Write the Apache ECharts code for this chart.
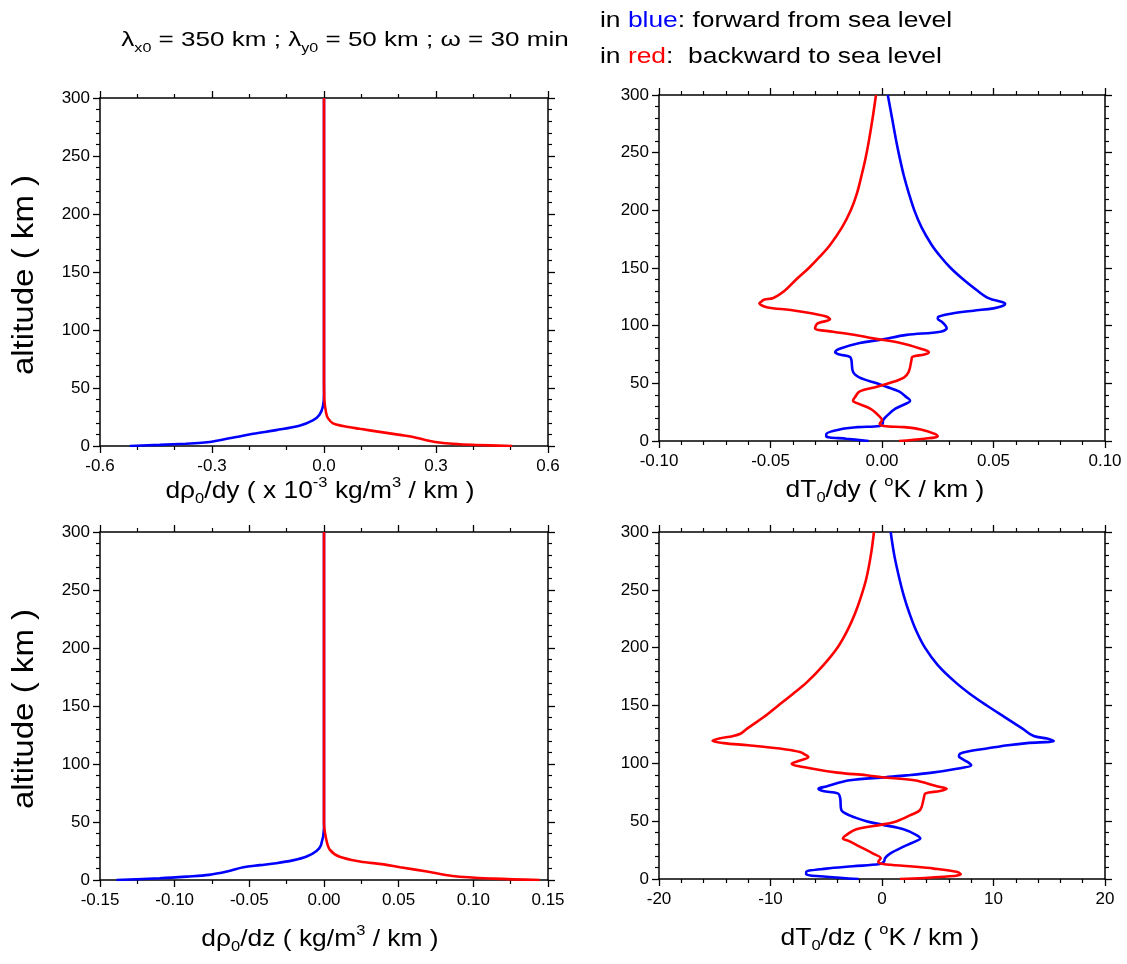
<!DOCTYPE html>
<html><head><meta charset="utf-8">
<script src="https://cdn.jsdelivr.net/npm/echarts@6/dist/echarts.min.js"></script>
<style>html,body{margin:0;padding:0;background:#fff}#c{width:1127px;height:964px}</style>
</head><body><div id="c"></div>
<script>
// ---- data ----
// top-left: d rho0 / dy  (x 1e-3 kg/m3/km)
const altRhoDyBlue = [0,1,2,3,5,8,10.5,13.7,17.4,22,27,34,45,60,100,200,300];
const rhoDyBlue    = [-0.52,-0.44,-0.37,-0.32,-0.28,-0.23,-0.19,-0.128,-0.066,-0.03,-0.012,-0.003,0,0,0,0,0];
const altRhoDyRed  = [0,0.9,1.5,2.6,5,7.8,9.6,12.2,14.8,17.2,19.5,23.8,28,40,60,100,200,300];
const rhoDyRed     = [0.504,0.408,0.364,0.319,0.274,0.239,0.203,0.149,0.096,0.051,0.024,0.011,0.006,0.001,0,0,0,0];
// bottom-left: d rho0 / dz (kg/m3/km)
const altRhoDzBlue = [0,1.5,2.9,4.4,7.3,11,12.8,14.5,16.9,20,25,30,45,100,200,300];
const rhoDzBlue    = [-0.139,-0.11,-0.092,-0.077,-0.065,-0.054,-0.043,-0.032,-0.021,-0.012,-0.005,-0.002,0,0,0,0];
const altRhoDzRed  = [0,1.2,3.5,7.3,11,13.5,16,20,26,35,50,100,200,300];
const rhoDzRed     = [0.1445,0.113,0.086,0.069,0.051,0.04,0.024,0.0105,0.004,0.0015,0,0,0,0];
// top-right: d T0 / dy (K/km)
const altTDyBlue = [0,2,4,6,10,12,13,15,18,22,28,33,35,38,43,47,50,55,60,70,73,75,77,80,85,87.6,92,94.8,97.7,100,103.4,106,107.8,110.7,113,115,117,119,121,123,124.5,130,140,150,160,170,185,200,215,230,245,260,280,300];
const tDyBlue    = [-0.006,-0.016,-0.025,-0.025,-0.019,-0.011,-0.001,0.0003,0.0005,0.0023,0.006,0.0115,0.0126,0.011,0.0076,0.002,-0.0023,-0.01,-0.013,-0.0137,-0.0144,-0.019,-0.021,-0.019,-0.01,-0.001,0.011,0.0262,0.029,0.0285,0.0268,0.025,0.0253,0.032,0.041,0.050,0.054,0.0552,0.053,0.049,0.047,0.0430,0.0365,0.0308,0.0262,0.0223,0.0178,0.0145,0.0120,0.0098,0.0080,0.0064,0.0045,0.0026];
const altTDyRed  = [0,2,4,6,10,12,13,15,18,22,28,33,35,38,43,47,50,55,60,70,73,75,77,80,85,89,91.9,94.8,97.7,101.8,105.5,107.8,110.5,113.6,116,119.5,121,122.5,124,130,140,150,160,170,185,200,215,230,245,260,280,300];
const tDyRed     = [0.0076,0.019,0.025,0.024,0.0174,0.01,0.0008,-0.001,0,-0.0015,-0.0053,-0.0115,-0.013,-0.0121,-0.01,-0.0023,0.003,0.0098,0.012,0.0132,0.0136,0.019,0.021,0.0174,0.0083,-0.004,-0.012,-0.022,-0.030,-0.029,-0.0233,-0.0248,-0.031,-0.041,-0.0517,-0.055,-0.054,-0.053,-0.0487,-0.0438,-0.0385,-0.0328,-0.0278,-0.0233,-0.0180,-0.0140,-0.0112,-0.0092,-0.0074,-0.0059,-0.0042,-0.0027];
// bottom-right: d T0 / dz (K/km)
const altTDzBlue = [0,2,4,6,9,11,13,15,18,22,28,33,35,38,43,47,50,55,60,70,74,76,78,80,85.3,88,89.6,92,95.4,98.3,101,104,106,108.4,110.5,113,115.6,117.5,119.3,121.5,123.6,130,140,150,160,170,185,200,215,230,245,260,280,300];
const tDzBlue    = [-2.1,-5.0,-6.8,-6.8,-5.0,-2.6,-0.2,0.18,0.27,0.72,1.93,3.1,3.44,3.1,1.93,0,-1.4,-2.9,-3.66,-3.75,-3.96,-5.3,-5.7,-5.0,-2.9,0.3,2.2,4.5,6.7,8.0,7.7,7.15,6.9,7.0,7.8,9.5,11.3,13.0,15.4,14.8,13.6,12.6,11.0,9.4,7.9,6.6,5.0,3.85,3.05,2.45,1.95,1.55,1.1,0.78];
const altTDzRed  = [0,2,4,6,9,11,13,15,18,22,28,33,35,38,43,47,50,55,60,70,74,76,78,80,85.3,88,89.7,92,95.4,99.7,102,105.5,107.5,109.8,112,115.6,117.5,119.5,121.5,123.5,125.6,130,140,150,160,170,185,200,215,230,245,260,280,300];
const tDzRed     = [1.6,5.5,7.07,6.77,4.65,2.5,0.1,-0.33,-0.12,-0.8,-2.0,-3.0,-3.5,-3.2,-2.3,0,1.33,2.5,3.44,3.75,3.9,5.2,5.8,5.0,2.9,0,-1.4,-4.0,-6.2,-8.1,-7.5,-6.6,-6.9,-7.35,-8.6,-12.0,-14.2,-15.2,-14.6,-13.4,-12.7,-12.1,-10.6,-9.3,-8.0,-6.75,-5.25,-4.0,-3.1,-2.4,-1.85,-1.4,-1.0,-0.72];

const altMin = 0, altMax = 300, altStep = 50;

function zip(xs, ys){ return xs.map((x,i)=>[x, ys[i]]); }

const FONT = 'Liberation Sans, Arial, sans-serif';
const grids = [
  {left:100, right:579, top:98,  bottom:518},
  {left:659, right:22,  top:95,  bottom:523},
  {left:100, right:579, top:532, bottom:84},
  {left:659, right:22,  top:532, bottom:85}
];
const xCfg = [
  {min:-0.6, max:0.6, interval:0.3, minor:3, dec:1},
  {min:-0.1, max:0.1, interval:0.05, minor:5, dec:2},
  {min:-0.15, max:0.15, interval:0.05, minor:2, dec:2},
  {min:-20, max:20, interval:10, minor:5, dec:0}
];
const axisLine = {show:true, onZero:false, lineStyle:{color:'#000', width:1.5}};
const tick = {show:true, length:7, lineStyle:{color:'#000', width:1.3}};
const minorTickOf = n => ({show:true, splitNumber:n, length:4, lineStyle:{color:'#000', width:1.2}});
const lbl = {fontSize:17, fontFamily:FONT, color:'#000', margin:10};

const xAxis = [], yAxis = [], series = [];
grids.forEach((g, i) => {
  const c = xCfg[i];
  xAxis.push({type:'value', gridIndex:i, position:'bottom', min:c.min, max:c.max, interval:c.interval,
    axisLine, axisTick:tick, minorTick:minorTickOf(c.minor), splitLine:{show:false},
    axisLabel:Object.assign({}, lbl, {margin:12, formatter:v=>Number(v).toFixed(c.dec)})});
  xAxis.push({type:'value', gridIndex:i, position:'top', min:c.min, max:c.max, interval:c.interval,
    axisLine, axisTick:tick, minorTick:minorTickOf(c.minor), splitLine:{show:false}, axisLabel:{show:false}});
  yAxis.push({type:'value', gridIndex:i, position:'left', min:altMin, max:altMax, interval:altStep,
    axisLine, axisTick:tick, minorTick:minorTickOf(5), splitLine:{show:false}, axisLabel:lbl});
  yAxis.push({type:'value', gridIndex:i, position:'right', min:altMin, max:altMax, interval:altStep,
    axisLine, axisTick:tick, minorTick:minorTickOf(5), splitLine:{show:false}, axisLabel:{show:false}});
});
const pairs = [
  [rhoDyBlue, altRhoDyBlue, rhoDyRed, altRhoDyRed],
  [tDyBlue, altTDyBlue, tDyRed, altTDyRed],
  [rhoDzBlue, altRhoDzBlue, rhoDzRed, altRhoDzRed],
  [tDzBlue, altTDzBlue, tDzRed, altTDzRed]
];
pairs.forEach((p, i) => {
  const base = {type:'line', xAxisIndex:2*i, yAxisIndex:2*i, showSymbol:false, symbol:'none', smooth:0.35, z:3};
  series.push(Object.assign({}, base, {name:'forward', data:zip(p[0], p[1]), lineStyle:{color:'#0000ff', width:2.6}}));
  series.push(Object.assign({}, base, {name:'backward', data:zip(p[2], p[3]), lineStyle:{color:'#ff0000', width:2.6}, z:4}));
});

const nameRich = {
  n:{fontSize:24, fontFamily:FONT, fill:'#000'},
  sub:{fontSize:15, fontFamily:FONT, fill:'#000', padding:[16,0,0,0]},
  sup:{fontSize:15, fontFamily:FONT, fill:'#000', padding:[0,0,16,0]}
};
const xTitles = [
  {x:320, y:491, t:'{n|dρ}{sub|0}{n|/dy ( x 10}{sup|-3}{n| kg/m}{sup|3}{n| / km )}'},
  {x:885, y:490, t:'{n|dT}{sub|0}{n|/dy ( }{sup|o}{n|K / km )}'},
  {x:320, y:939, t:'{n|dρ}{sub|0}{n|/dz ( kg/m}{sup|3}{n| / km )}'},
  {x:880, y:938, t:'{n|dT}{sub|0}{n|/dz ( }{sup|o}{n|K / km )}'}
];
const graphic = xTitles.map(o => ({type:'text', x:o.x, y:o.y, scaleX:1.1,
  style:{text:o.t, rich:nameRich, align:'center', verticalAlign:'middle'}}));
[275, 709].forEach(cy => graphic.push({type:'text', x:25, y:cy, rotation:Math.PI/2, scaleX:1.14,
  style:{text:'altitude ( km )', font:'29px ' + FONT, fill:'#000', align:'center', verticalAlign:'middle'}}));
graphic.push({type:'text', x:345, y:40, scaleX:1.24, style:{
  text:'{t|λ}{s|x0}{t| = 350 km ; λ}{s|y0}{t| = 50 km ; ω = 30 min}',
  align:'center', verticalAlign:'middle',
  rich:{t:{fontSize:21, fontFamily:FONT, fill:'#000'}, s:{fontSize:13, fontFamily:FONT, fill:'#000', padding:[16,0,0,0]}}
}});
graphic.push({type:'text', x:600, y:21, scaleX:1.2, style:{
  text:'{t|in }{b|blue}{t|: forward from sea level}', align:'left', verticalAlign:'middle',
  rich:{t:{fontSize:22, fontFamily:FONT, fill:'#000'}, b:{fontSize:22, fontFamily:FONT, fill:'#0000ff'}}
}});
graphic.push({type:'text', x:600, y:57, scaleX:1.2, style:{
  text:'{t|in }{r|red}{t|:  backward to sea level}', align:'left', verticalAlign:'middle',
  rich:{t:{fontSize:22, fontFamily:FONT, fill:'#000'}, r:{fontSize:22, fontFamily:FONT, fill:'#ff0000'}}
}});

const chart = echarts.init(document.getElementById('c'), null, {renderer:'canvas'});
chart.setOption({
  animation:false,
  backgroundColor:'#fff',
  grid:grids,
  xAxis, yAxis, series, graphic
});
</script></body></html>
